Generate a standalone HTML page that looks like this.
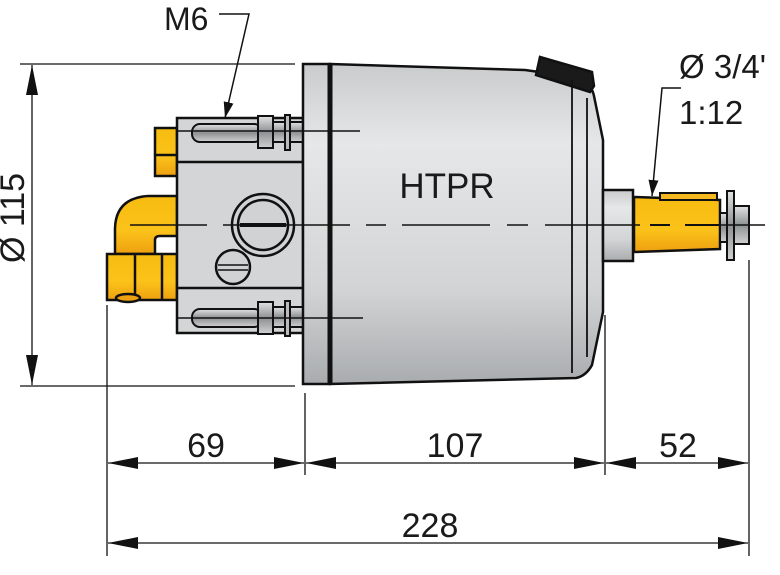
<!DOCTYPE html>
<html><head><meta charset="utf-8"><style>
html,body{margin:0;padding:0;background:#fff;}
svg{display:block;}
text{font-family:"Liberation Sans",Arial,sans-serif;fill:#1a1a1a;}
</style></head><body>
<svg width="780" height="575" viewBox="0 0 780 575" xmlns="http://www.w3.org/2000/svg">
<defs>
<linearGradient id="gb" x1="0" y1="0" x2="0" y2="1">
<stop offset="0" stop-color="#c9cbcc"/><stop offset="0.25" stop-color="#e6e7e8"/><stop offset="0.7" stop-color="#d2d4d5"/><stop offset="1" stop-color="#a9acae"/>
</linearGradient>
<linearGradient id="gy" x1="0" y1="0" x2="0" y2="1">
<stop offset="0" stop-color="#f7bc10"/><stop offset="0.6" stop-color="#fbc21a"/><stop offset="1" stop-color="#eea010"/>
</linearGradient>
<linearGradient id="gr" x1="0" y1="0" x2="0" y2="1">
<stop offset="0" stop-color="#e2e3e4"/><stop offset="0.5" stop-color="#8e9193"/><stop offset="1" stop-color="#d0d1d2"/>
</linearGradient>
<marker id="a" markerWidth="30" markerHeight="12" refX="30" refY="6" orient="auto" markerUnits="userSpaceOnUse"><path d="M0,0 L30,6 L0,12 Z" fill="#111"/></marker>
<marker id="b" markerWidth="16" markerHeight="10" refX="16" refY="5" orient="auto" markerUnits="userSpaceOnUse"><path d="M0,0 L16,5 L0,10 Z" fill="#111"/></marker>
</defs>
<g stroke="#111" stroke-width="1.3" fill="none">
<line x1="20" y1="64" x2="295" y2="64"/>
<line x1="20" y1="386" x2="295" y2="386"/>
<line x1="107" y1="305" x2="107" y2="556"/>
<line x1="305" y1="393" x2="305" y2="475"/>
<line x1="605" y1="315" x2="605" y2="475"/>
<line x1="749" y1="260" x2="749" y2="556"/>
<line x1="32" y1="225" x2="32" y2="65" marker-end="url(#a)"/>
<line x1="32" y1="225" x2="32" y2="385" marker-end="url(#a)"/>
<line x1="200" y1="463" x2="108" y2="463" marker-end="url(#a)"/>
<line x1="200" y1="463" x2="304" y2="463" marker-end="url(#a)"/>
<line x1="450" y1="463" x2="306" y2="463" marker-end="url(#a)"/>
<line x1="450" y1="463" x2="604" y2="463" marker-end="url(#a)"/>
<line x1="680" y1="463" x2="606" y2="463" marker-end="url(#a)"/>
<line x1="680" y1="463" x2="748" y2="463" marker-end="url(#a)"/>
<line x1="430" y1="543" x2="108" y2="543" marker-end="url(#a)"/>
<line x1="430" y1="543" x2="748" y2="543" marker-end="url(#a)"/>
</g>
<text x="15" y="218" font-size="34" text-anchor="middle" transform="rotate(-90 15 218)" dominant-baseline="middle">Ø 115</text>
<text x="206" y="457" font-size="34" text-anchor="middle">69</text>
<text x="455" y="457" font-size="34" text-anchor="middle">107</text>
<text x="678" y="457" font-size="34" text-anchor="middle">52</text>
<text x="430" y="537" font-size="34" text-anchor="middle">228</text>

<g stroke="#111" stroke-width="2.5">
<rect x="155" y="128" width="22" height="48" fill="url(#gy)"/>
<line x1="155" y1="155" x2="177" y2="155"/>
<path d="M177,196 L148,196 Q116,198 115,228 L115,254 L155,254 L155,240 Q155,236 160,236 L177,236 Z" fill="url(#gy)"/>
<rect x="107" y="254" width="70" height="46" fill="url(#gy)"/>
<line x1="135" y1="254" x2="135" y2="300"/>
<line x1="162" y1="254" x2="162" y2="300"/>
<ellipse cx="128" cy="298" rx="12" ry="4" fill="#eea010"/>
</g>
<g stroke="#111" stroke-width="2.5">
<rect x="177" y="118" width="126" height="215" fill="#d3d5d6"/>
<line x1="177" y1="162" x2="303" y2="162"/>
<line x1="177" y1="288" x2="303" y2="288"/>
<circle cx="263" cy="225" r="31" fill="#d0d2d3"/>
<circle cx="263" cy="225" r="25" fill="#d0d2d3"/>
<line x1="240" y1="225" x2="286" y2="225" stroke-width="4"/>
<circle cx="233" cy="267" r="17" fill="#d0d2d3"/>
<line x1="218" y1="265" x2="248" y2="265" stroke-width="1.5"/>
<line x1="218" y1="270" x2="248" y2="270" stroke-width="1.5"/>
<rect x="192" y="124" width="70" height="18" rx="8" fill="url(#gr)" stroke-width="2"/>
<rect x="258" y="116" width="15" height="32" fill="url(#gr)" stroke-width="2"/>
<rect x="273" y="122" width="30" height="20" fill="url(#gr)" stroke-width="2"/>
<rect x="285" y="115" width="5" height="35" fill="#bbb" stroke-width="2"/>
<rect x="192" y="309" width="70" height="18" rx="8" fill="url(#gr)" stroke-width="2"/>
<rect x="258" y="302" width="15" height="32" fill="url(#gr)" stroke-width="2"/>
<rect x="273" y="307" width="30" height="20" fill="url(#gr)" stroke-width="2"/>
<rect x="285" y="301" width="5" height="35" fill="#bbb" stroke-width="2"/>
</g>
<g stroke="#111" stroke-width="2.5">
<rect x="303" y="64" width="27" height="320" fill="url(#gb)"/>
<path d="M330,64 L525,70 L582,78 Q592,86 594,96 L603,140 L603,312 L592,365 Q586,376 576,378 L330,384 Z" fill="url(#gb)"/>
<line x1="330" y1="64" x2="330" y2="384" stroke-width="5"/>
<path d="M540,57 L592,72 L594,86 L590,92 L536,75 Z" fill="#1a1a1a"/>
<line x1="572" y1="80" x2="572" y2="373" stroke-width="1.8"/>
<line x1="587" y1="98" x2="587" y2="357" stroke-width="1.8"/>
<rect x="603" y="190" width="30" height="71" fill="url(#gb)"/>
<path d="M634,197 L720,200 L720,249 L634,252 Z" fill="url(#gy)"/>
<rect x="660" y="193" width="57" height="7" fill="#f5b820" stroke-width="2"/>
<rect x="720" y="213" width="7" height="29" fill="url(#gr)" stroke-width="2"/>
<rect x="727" y="191" width="7" height="69" fill="url(#gr)" stroke-width="2"/>
<rect x="734" y="206" width="15" height="38" fill="url(#gr)" stroke-width="2"/>
</g>
<g stroke="#111" stroke-width="1.5">
<line x1="130" y1="225" x2="207" y2="225"/>
<line x1="223" y1="225" x2="350" y2="225"/>
<line x1="366" y1="225" x2="386" y2="225"/>
<line x1="402" y1="225" x2="490" y2="225"/>
<line x1="507" y1="225" x2="528" y2="225"/>
<line x1="545" y1="225" x2="640" y2="225"/>
<line x1="650" y1="225" x2="670" y2="225" stroke-width="2"/>
<line x1="685" y1="225" x2="720" y2="225" stroke-width="2"/>
<line x1="720" y1="225" x2="765" y2="225"/>
<line x1="176" y1="131" x2="360" y2="131"/>
<line x1="176" y1="318" x2="363" y2="318"/>
</g>
<text x="447" y="198" font-size="35" text-anchor="middle">HTPR</text>
<g stroke="#111" stroke-width="1.5" fill="none">
<polyline points="219,14 249,14 225,118" marker-end="url(#b)"/>
<polyline points="681,88 662,88 652,196" marker-end="url(#b)"/>
</g>
<text x="164" y="30" font-size="32">M6</text>
<text x="679" y="78" font-size="33">Ø 3/4'</text>
<text x="679" y="124" font-size="33">1:12</text>
</svg>
</body></html>
